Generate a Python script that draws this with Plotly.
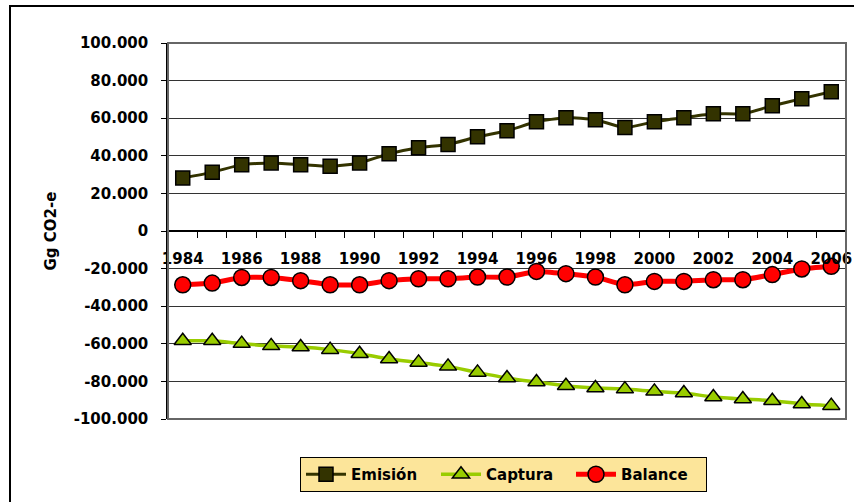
import plotly.graph_objects as go

years = list(range(1984, 2007))
emision = [28200, 31200, 35300, 36200, 35300, 34400, 36200, 41100, 44300, 46000,
           50100, 53300, 58100, 60300, 59200, 55000, 58100, 60300, 62400, 62400,
           66600, 70400, 74100]
captura = [-58400, -58400, -59900, -61100, -61700, -63100, -65300, -68100, -69900, -72000,
           -75200, -78200, -80300, -82300, -83500, -84100, -85300, -86200, -88300, -89400,
           -90300, -92000, -92900]
balance = [-28600, -27700, -24700, -24700, -26400, -28600, -28600, -26400, -25400, -25400,
           -24500, -24500, -21500, -22700, -24500, -28600, -26800, -26800, -25900, -25900,
           -23200, -20200, -18800]

y_tickvals = [100000, 80000, 60000, 40000, 20000, 0, -20000, -40000, -60000, -80000, -100000]
y_ticktext = ["100.000", "80.000", "60.000", "40.000", "20.000", "0", "-20.000", "-40.000",
              "-60.000", "-80.000", "-100.000"]
x_tickvals = years[::2]
x_ticktext = [str(y) for y in x_tickvals]

FONT = "DejaVu Sans"

fig = go.Figure()
fig.add_trace(go.Scatter(
    x=years, y=emision, name="Emisión", mode="lines+markers",
    line=dict(color="#333300", width=3, shape="spline", smoothing=0.5),
    marker=dict(symbol="square", size=14, color="#333300", line=dict(color="black", width=1.5)),
))
fig.add_trace(go.Scatter(
    x=years, y=captura, name="Captura", mode="lines+markers",
    line=dict(color="#99CC00", width=3.5, shape="spline", smoothing=0.5),
    marker=dict(symbol="triangle-up", size=15, color="#99CC00", line=dict(color="black", width=1.5)),
))
fig.add_trace(go.Scatter(
    x=years, y=balance, name="Balance", mode="lines+markers",
    line=dict(color="#FF0000", width=5, shape="spline", smoothing=0.5),
    marker=dict(symbol="circle", size=16, color="#FF0000", line=dict(color="black", width=1.5)),
))

L, R, T, B = 168, 846, 43, 419
W, H = 854, 502
pw, ph = R - L, B - T

fig.update_layout(
    width=W, height=H,
    margin=dict(l=L, r=W - R, t=T, b=H - B, autoexpand=False),
    paper_bgcolor="white", plot_bgcolor="white",
    font=dict(family=FONT, color="black"),
    showlegend=True,
    legend=dict(
        orientation="h", x=(300 - L) / pw, y=(B - 457) / ph, xanchor="left", yanchor="top",
        bgcolor="#FCE59A", bordercolor="black", borderwidth=1,
        font=dict(family=FONT, size=15, color="black", weight="bold"),
        entrywidth=80, entrywidthmode="pixels", itemwidth=40,
        tracegroupgap=0,
    ),
    xaxis=dict(
        range=[1983.5, 2006.5], anchor="free", position=0.5,
        tickmode="array", tickvals=x_tickvals, ticktext=x_ticktext,
        ticks="outside", ticklen=14, tickcolor="rgba(0,0,0,0)",
        tickfont=dict(family=FONT, size=15, color="black", weight="bold"),
        showgrid=False, zeroline=False, showline=False,
        minor=dict(tickmode="array", tickvals=[1983.5 + i for i in range(24)],
                   ticks="outside", ticklen=6, tickcolor="black", tickwidth=1, showgrid=False),
    ),
    yaxis=dict(
        range=[-100000, 100000],
        tickmode="array", tickvals=y_tickvals, ticktext=y_ticktext,
        ticks="outside", ticklen=5, tickcolor="black", tickwidth=1,
        ticklabelstandoff=10,
        tickfont=dict(family=FONT, size=15, color="black", weight="bold"),
        showgrid=True, gridcolor="#333333", gridwidth=1,
        zeroline=True, zerolinecolor="black", zerolinewidth=1.5,
        showline=True, linecolor="black", linewidth=1.5,
        title=dict(text="Gg CO2-e", font=dict(family=FONT, size=15, color="black", weight="bold"),
                   standoff=13),
    ),
    shapes=[
        dict(type="rect", xref="paper", yref="paper", x0=0, x1=1, y0=0, y1=1,
             line=dict(color="#666666", width=2), layer="above"),
        dict(type="rect", xref="paper", yref="paper",
             x0=(10 - L) / pw, x1=(W + 10 - L) / pw,
             y0=(B - (H + 10)) / ph, y1=1 + (T - 6) / ph,
             line=dict(color="black", width=2)),
    ],
)

fig.write_html("out.html",
               config={"displayModeBar": False},
               post_script="document.body.style.margin='0px';document.body.style.padding='0px';document.body.style.overflow='hidden';")
